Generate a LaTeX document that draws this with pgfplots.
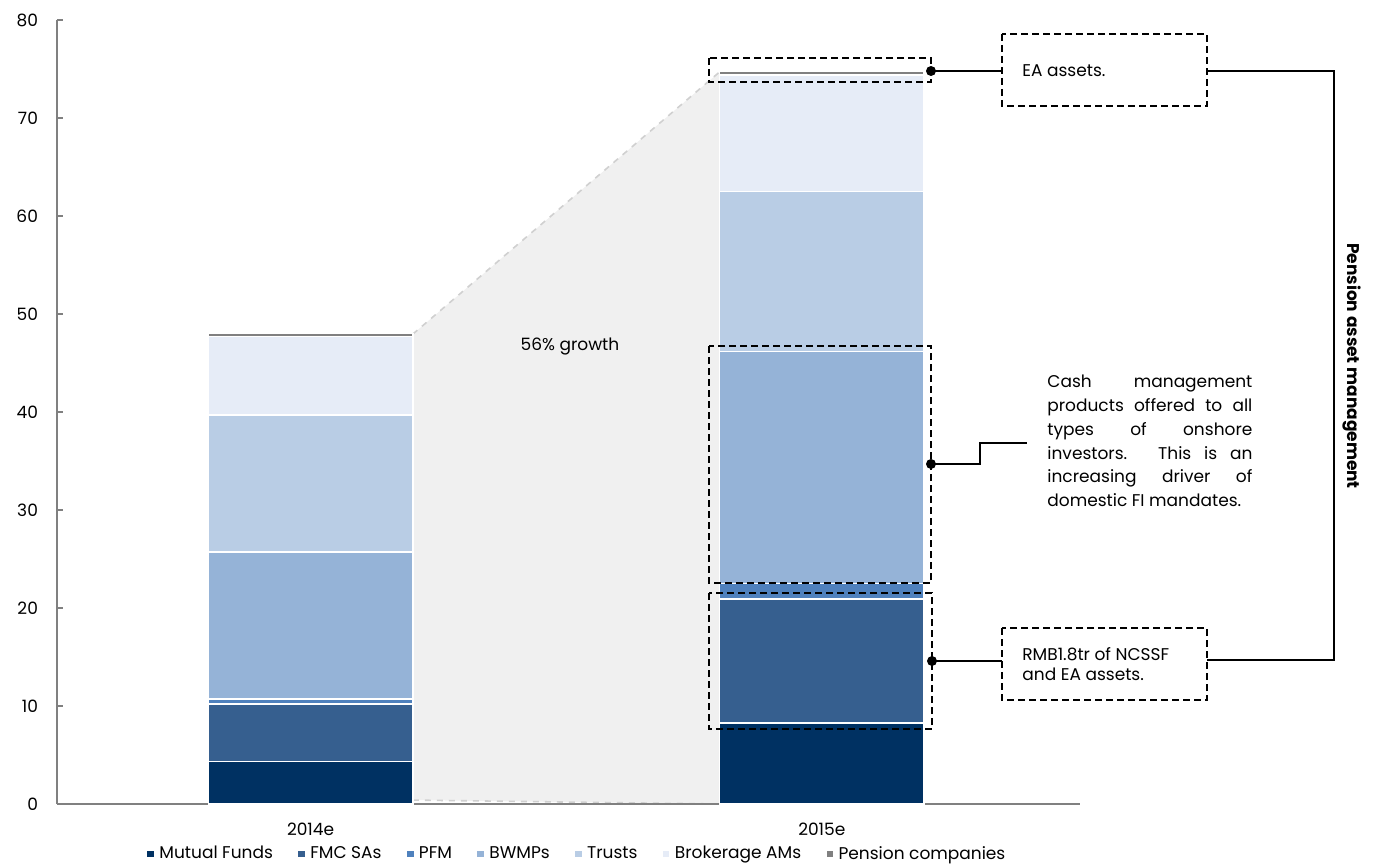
\documentclass[border=0pt]{standalone}
\usepackage{fontspec}
\setmainfont{Poppins}
\usepackage{pgfplots}
\usepackage{pgfplotstable}
\pgfplotsset{compat=1.18}

\definecolor{cMF}{HTML}{003162}
\definecolor{cFMC}{HTML}{365F8F}
\definecolor{cPFM}{HTML}{4F81BD}
\definecolor{cBW}{HTML}{95B3D7}
\definecolor{cTR}{HTML}{B9CDE5}
\definecolor{cBR}{HTML}{E6ECF7}
\definecolor{cPC}{HTML}{808080}
\definecolor{cArea}{HTML}{F0F0F0}
\definecolor{cEdge}{HTML}{D0D0D0}

% stacked values, RMB tr
\pgfplotstableread{
x mf fmc pfm bw tr br pc
0 4.35 5.85 0.5 15.0 14.0 8.0 0.3
1 8.25 12.65 1.6 23.65 16.35 11.9 0.35
}\datatab

\newcommand{\fs}{\fontsize{8.5}{10}\selectfont}

\begin{document}
\begin{tikzpicture}
\path[use as bounding box] (-28.5pt,-30pt) rectangle (668pt,402pt);

% growth wedge behind the bars
\begin{axis}[
    scale only axis, width=511.5pt, height=392pt,
    xmin=-0.496, xmax=1.505, ymin=0, ymax=80,
    hide axis, clip=false,
]
\addplot[fill=cArea, draw=none] coordinates {(0.2,0.4) (0.2,47.95) (0.8,74.7) (0.8,0)} -- cycle;
\addplot[cEdge, dashed, line width=0.8pt] coordinates {(0.2,47.95) (0.8,74.7)};
\addplot[cEdge, dashed, line width=0.8pt] coordinates {(0.2,0.4) (0.8,0)};
\end{axis}

\begin{axis}[
    scale only axis, width=511.5pt, height=392pt,
    ybar stacked, bar width=0.4,
    xmin=-0.496, xmax=1.505, ymin=0, ymax=80,
    xtick={0,1}, xticklabels={2014e,2015e},
    ytick={0,10,...,80},
    axis x line*=bottom, axis y line*=left,
    axis line style={-, draw=gray, line width=0.8pt},
    ytick style={draw=gray, line width=0.8pt},
    xtick style={draw=none},
    tick align=inside, major tick length=3pt,
    /pgf/number format/assume math mode=true,
    tick label style={font=\fs},
    yticklabel style={xshift=-6pt},
    xticklabel style={yshift=-6pt},
    clip=false,
    legend style={at={(0.509,-0.043)}, anchor=north, legend columns=-1,
        draw=none, fill=none, font=\fs,
        /tikz/every even column/.append style={column sep=10pt}},
    legend image code/.code={\fill[#1] (0pt,-2pt) rectangle (4pt,2pt);},
    every axis plot/.append style={draw=white, line width=0.7pt},
]
\addplot[fill=cMF]  table[x=x,y=mf]{\datatab};
\addplot[fill=cFMC] table[x=x,y=fmc]{\datatab};
\addplot[fill=cPFM] table[x=x,y=pfm]{\datatab};
\addplot[fill=cBW]  table[x=x,y=bw]{\datatab};
\addplot[fill=cTR]  table[x=x,y=tr]{\datatab};
\addplot[fill=cBR]  table[x=x,y=br]{\datatab};
\addplot[fill=cPC]  table[x=x,y=pc]{\datatab};
\legend{Mutual Funds, FMC SAs, PFM, BWMPs, Trusts, Brokerage AMs, Pension companies}
\end{axis}

% callouts, in pixel units of the reference
\begin{scope}[x=0.5pt, y=-0.5pt, shift={(-28.5pt,402pt)}]
\tikzset{dbox/.style={draw=black, line width=0.9pt, dash pattern=on 3.5pt off 2pt}}
\draw[dbox] (709,58) rectangle (931,82);
\draw[dbox] (709,346) rectangle (931,583);
\draw[dbox] (709,593) rectangle (932,729);

\draw[line width=0.6pt] (931,71) -- (1002,71);
\draw[line width=0.6pt] (931,464) -- (980,464) -- (980,443) -- (1027,443);
\draw[line width=0.6pt] (932,661) -- (1002,661);
\draw[line width=0.6pt] (1207,71) -- (1334,71) -- (1334,660) -- (1207,660);
\fill (931,71) circle (2.5pt);
\fill (931,464) circle (2.5pt);
\fill (932,661) circle (2.5pt);

\draw[dbox, fill=white] (1002,34) rectangle (1207,106);
\node[anchor=west, font=\fs, inner sep=0pt] at (1022,71) {EA assets.};

\draw[dbox, fill=white] (1002,628) rectangle (1207,700);
\node[anchor=west, font=\fs, inner sep=0pt, align=left] at (1022,664)
    {RMB1.8tr of NCSSF\\and EA assets.};

\node[anchor=west, inner sep=0pt, text width=102.5pt, align=justify,
      font=\fontsize{8.5}{11.9}\selectfont] at (1047,441)
    {Cash management\linebreak products offered to all\linebreak types of onshore\linebreak
     investors. This is an\linebreak increasing driver of\linebreak domestic FI mandates.};

\node[font=\fs] at (570,347) {56\% growth};
\node[font=\fs\bfseries, rotate=-90] at (1352,366) {Pension asset management};
\end{scope}
\end{tikzpicture}
\end{document}
